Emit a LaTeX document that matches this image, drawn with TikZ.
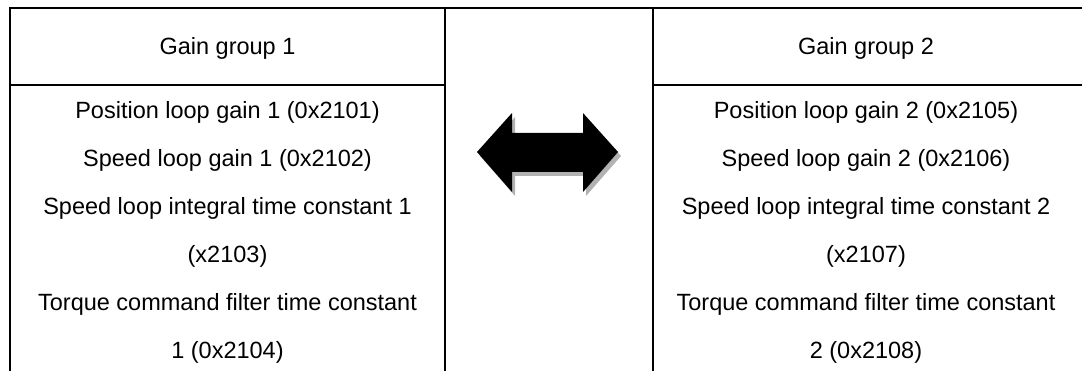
\documentclass[tikz,border=0pt]{standalone}
\usepackage{fontspec}
\setmainfont{Liberation Sans}
\begin{document}
\begin{tikzpicture}[x=1pt,y=-1pt,
  rule/.style={line width=1.6pt, line cap=rect},
  txt/.style={font=\fontsize{23.5}{28}\selectfont, inner sep=0pt, anchor=base},
  arrowbody/.style={fill=black},
  arrowshadow/.style={fill=black!30}]
\useasboundingbox (0,0) rectangle (1082,371);
% table rules
\draw[rule] (10,373) -- (10,8) -- (1084,8);
\draw[rule] (445,8) -- (445,373);
\draw[rule] (653,8) -- (653,373);
\draw[rule] (10,85) -- (445,85);
\draw[rule] (653,85) -- (1084,85);
% left column
\node[txt] (h1) at (227.5,55) {Gain group 1};
\node[txt] (l1) at (227.5,119) {Position loop gain 1 (0x2101)};
\node[txt] (l2) at (227.5,167) {Speed loop gain 1 (0x2102)};
\node[txt] (l3) at (227.5,215) {Speed loop integral time constant 1};
\node[txt] (l4) at (227.5,263) {(x2103)};
\node[txt] (l5) at (227.5,311) {Torque command filter time constant};
\node[txt] (l6) at (227.5,359) {1 (0x2104)};
% right column
\node[txt] (h2) at (866,55) {Gain group 2};
\node[txt] (r1) at (866,119) {Position loop gain 2 (0x2105)};
\node[txt] (r2) at (866,167) {Speed loop gain 2 (0x2106)};
\node[txt] (r3) at (866,215) {Speed loop integral time constant 2};
\node[txt] (r4) at (866,263) {(x2107)};
\node[txt] (r5) at (866,311) {Torque command filter time constant};
\node[txt] (r6) at (866,359) {2 (0x2108)};
% double arrow with shadow
\fill[arrowshadow, shift={(3,4)}] (477,152) -- (512,113) -- (512,133) -- (583,133) -- (583,113)
  -- (618,152) -- (583,192) -- (583,172) -- (512,172) -- (512,192) -- cycle;
\fill[arrowbody] (477,152) -- (512,113) -- (512,133) -- (583,133) -- (583,113)
  -- (618,152) -- (583,192) -- (583,172) -- (512,172) -- (512,192) -- cycle;
\end{tikzpicture}
\end{document}
